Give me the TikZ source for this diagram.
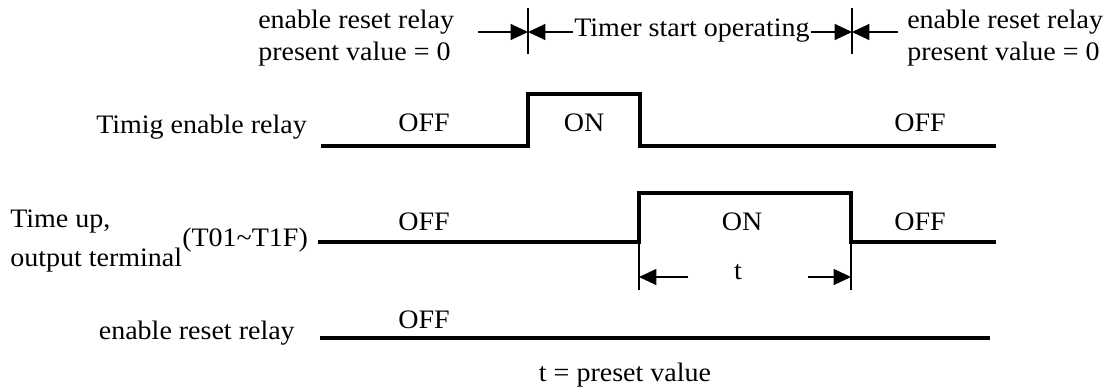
\documentclass[tikz,border=0pt]{standalone}
\usepackage{fontspec}
\setmainfont{Liberation Serif}[FakeStretch=1.05]
\usetikzlibrary{arrows.meta}
\begin{document}
\begin{tikzpicture}[x=0.75pt,y=-0.75pt,
  sig/.style={line width=2.5pt, line join=miter},
  thinline/.style={line width=0.9pt},
  lbl/.style={font=\fontsize{20}{24}\selectfont, inner sep=0pt},
  tip/.style={-{Triangle[length=13pt,width=12pt]}, thinline},
]
\useasboundingbox (0,0) rectangle (1113,387);
% top row
\node[lbl, align=left, anchor=west] (ltop) at (258,38) {enable reset relay\\present value = 0};
\node[lbl, align=left, anchor=west] (rtop) at (907,38) {enable reset relay\\present value = 0};
\node[lbl] (timer) at (692,31) {Timer start operating};
\coordinate (b1t) at (528,8); \coordinate (b1b) at (528,54);
\coordinate (b2t) at (852,8); \coordinate (b2b) at (852,54);
\coordinate (b1m) at (528,32); \coordinate (b2m) at (852,32);
\coordinate (a1) at (478,32); \coordinate (a2) at (898,32);
\draw[thinline] (b1t) -- (b1b);
\draw[thinline] (b2t) -- (b2b);
\draw[tip] (a1) -- (b1m);
\draw[tip] ([xshift=-1pt]timer.west |- b1m) -- (b1m);
\draw[tip] ([xshift=1pt]timer.east |- b2m) -- (b2m);
\draw[tip] (a2) -- (b2m);
% row 1
\node[lbl, anchor=east] (r1) at (307,127) {Timig enable relay};
\coordinate (p1) at (321,146); \coordinate (p2) at (528,146);
\coordinate (p3) at (528,94); \coordinate (p4) at (640,94);
\coordinate (p5) at (640,146); \coordinate (p6) at (996,146);
\draw[sig] (p1) -- (p2) -- (p3) -- (p4) -- (p5) -- (p6);
\node[lbl] (off1) at (424,123) {OFF};
\node[lbl] (on1) at (584,123) {ON};
\node[lbl] (off2) at (920,123) {OFF};
% row 2
\node[lbl, anchor=west] (r2a) at (10,222) {Time up,};
\node[lbl, anchor=west] (r2b) at (10,260) {output terminal};
\node[lbl, anchor=west] (r2c) at (182,240) {(T01\textasciitilde T1F)};
\coordinate (q1) at (318,242); \coordinate (q2) at (639,242);
\coordinate (q3) at (639,193); \coordinate (q4) at (851,193);
\coordinate (q5) at (851,242); \coordinate (q6) at (996,242);
\draw[sig] (q1) -- (q2) -- (q3) -- (q4) -- (q5) -- (q6);
\node[lbl] (off3) at (424,222) {OFF};
\node[lbl] (on2) at (742,222) {ON};
\node[lbl] (off4) at (920,222) {OFF};
\coordinate (t1b) at (639,290); \coordinate (t2b) at (851,290);
\draw[thinline] (q2) -- (t1b);
\draw[thinline] (q5) -- (t2b);
\coordinate (ta1) at (688,277); \coordinate (ta1e) at (639,277);
\coordinate (ta2) at (808,277); \coordinate (ta2e) at (851,277);
\draw[tip] (ta1) -- (ta1e);
\draw[tip] (ta2) -- (ta2e);
\node[lbl] (tlab) at (738,272) {t};
% row 3
\node[lbl, anchor=east] (r3) at (295,333) {enable reset relay};
\coordinate (s1) at (320,338); \coordinate (s2) at (990,338);
\draw[sig] (s1) -- (s2);
\node[lbl] (off5) at (424,320) {OFF};
\node[lbl] (note) at (625,375) {t = preset value};
\end{tikzpicture}
\end{document}
